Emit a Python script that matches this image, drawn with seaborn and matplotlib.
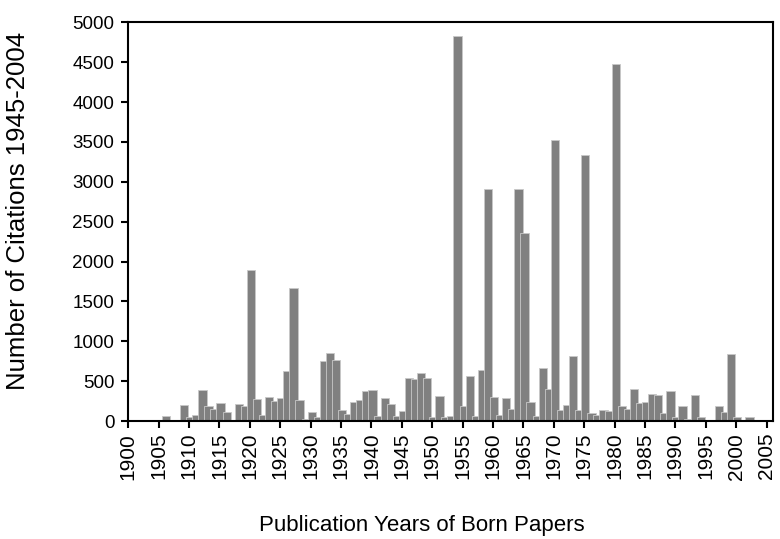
"""
Citations of Born papers by publication year (bar chart)
"""
import numpy as np
import pandas as pd
import matplotlib
matplotlib.use("Agg")
import matplotlib.pyplot as plt
import seaborn as sns

# Publication years of the papers
years = list(range(1900, 2005))

# Number of citations 1945-2004, one value per publication year
citations = [
    0, 0, 0, 0, 0, 0, 60, 0, 0, 205,            # 1900-1909
    50, 70, 395, 190, 145, 220, 110, 0, 210, 190,  # 1910-1919
    1895, 280, 80, 295, 255, 290, 625, 1665, 260, 30,  # 1920-1929
    115, 50, 755, 850, 770, 140, 85, 235, 260, 375,   # 1930-1939
    390, 65, 290, 210, 65, 130, 540, 525, 605, 535,   # 1940-1949
    55, 310, 45, 60, 4830, 185, 565, 60, 640, 2905,   # 1950-1959
    300, 70, 285, 145, 2915, 2355, 235, 60, 660, 405,  # 1960-1969
    3525, 135, 205, 815, 135, 3340, 95, 70, 135, 130,  # 1970-1979
    4475, 185, 155, 400, 230, 235, 335, 320, 95, 375,  # 1980-1989
    50, 190, 25, 325, 45, 0, 0, 190, 110, 835,        # 1990-1999
    45, 0, 55, 0, 0,                                   # 2000-2004
]

x_ticks = list(range(1900, 2006, 5))
y_ticks = list(range(0, 5001, 500))

BAR_COLOR = "#808080"
BAR_WIDTH = 1.37  # bars are wider than one year and overlap the next one

sns.set_style("ticks")
plt.rcParams["font.family"] = ["Liberation Sans", "DejaVu Sans"]
plt.rcParams["text.color"] = "black"
plt.rcParams["axes.labelcolor"] = "black"

df = pd.DataFrame({"year": years, "citations": citations})
# left edge of each bar sits half a year before the year
df["pos"] = df["year"] + (BAR_WIDTH - 1) / 2

fig = plt.figure(figsize=(7.8, 5.39), dpi=100)
ax = fig.add_axes([128.3 / 780, 1 - 421 / 539, 644.3 / 780, 398.7 / 539])

sns.barplot(data=df, x="pos", y="citations", native_scale=True,
            width=BAR_WIDTH, color=BAR_COLOR, saturation=1,
            edgecolor="#c8c8c8", linewidth=0.6, errorbar=None, ax=ax)

ax.set_xlim(1900, 2006)
ax.set_ylim(0, 5000)
ax.set_xticks(x_ticks)
ax.set_xticklabels([str(t) for t in x_ticks], rotation=90, fontsize=15)
ax.set_yticks(y_ticks)
ax.set_yticklabels([str(t) for t in y_ticks], fontsize=13.5)
ax.tick_params(axis="both", direction="out", length=5, width=1.5, colors="black")
ax.tick_params(axis="y", pad=5)

for side in ["left", "right", "top", "bottom"]:
    ax.spines[side].set_visible(True)
    ax.spines[side].set_linewidth(1.5)
    ax.spines[side].set_color("black")

ax.set_xlabel("Publication Years of Born Papers", fontsize=16, color="black")
ax.set_ylabel("Number of Citations 1945-2004", fontsize=18.5, color="black")
ax.xaxis.set_label_coords(0.456, -0.236)
ax.yaxis.set_label_coords(-0.152, 0.526)

fig.savefig("out.png", dpi=100)
plt.close(fig)
